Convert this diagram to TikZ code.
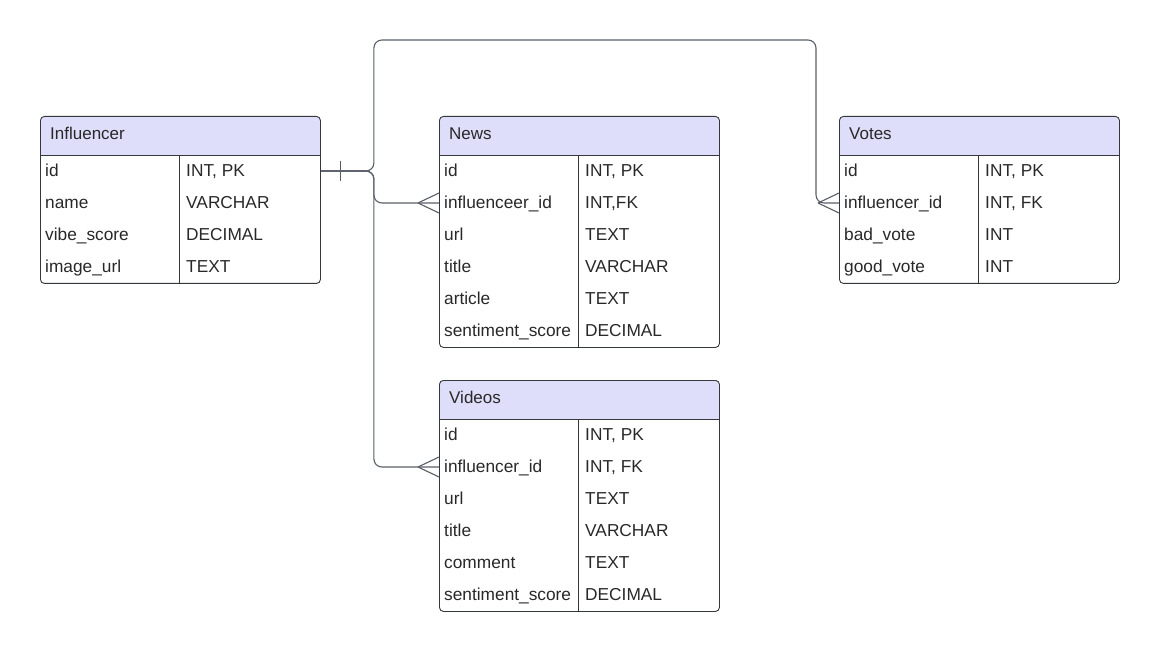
\documentclass[tikz,border=0pt]{standalone}
\usepackage{fontspec}
\setmainfont{Liberation Sans}
\usetikzlibrary{calc}
\definecolor{hdrfill}{RGB}{222,222,250}
\definecolor{edge}{RGB}{52,55,60}
\definecolor{conn}{RGB}{88,94,104}
\definecolor{ink}{RGB}{40,40,40}

% #1 name, #2 left, #3 top, #4 title, #5 number of rows, #6 rows as {field}/{type}
\newcommand\ertable[6]{%
  \pgfmathsetmacro\tabh{39+32*#5}
  \begin{scope}
    \clip[rounded corners=4] (#2,#3) rectangle ++(280,\tabh);
    \fill[hdrfill] (#2,#3) rectangle ++(280,39);
  \end{scope}
  \node[tablebox, minimum height=\tabh pt] (#1) at (#2,#3) {};
  \node[titletext] (#1-title) at (#2+6,#3+23.5) {#4};
  \draw[edge, line width=0.9pt] (#2,#3+39) -- ++(280,0);
  \draw[edge, line width=0.9pt] (#2+139,#3+39) -- (#2+139,#3+\tabh);
  \foreach \fld/\typ [count=\i] in {#6} {
    \node[celltext] (#1-\i) at (#2+1,#3+28.5+32*\i) {\fld};
    \node[celltext] (#1-\i-t) at (#2+142,#3+28.5+32*\i) {\typ};
  }
}

\tikzset{
  tablebox/.style={draw=edge, line width=0.9pt, rounded corners=4, minimum width=280pt,
    anchor=north west, inner sep=0pt},
  titletext/.style={anchor=base west, inner sep=4pt, text=ink, font=\fontsize{17}{20}\selectfont},
  celltext/.style={anchor=base west, inner sep=4pt, text=ink, font=\fontsize{17.3}{20}\selectfont},
  link/.style={draw=conn, line width=1.1pt, rounded corners=8},
  endmark/.style={draw=conn, line width=1.1pt},
}

\begin{document}
\begin{tikzpicture}[x=1pt,y=-1pt]
  \useasboundingbox (0,0) rectangle (1159,652);

  \ertable{infl}{40}{116}{Influencer}{4}{{id}/{INT, PK},{name}/{VARCHAR},{vibe\_score}/{DECIMAL},{image\_url}/{TEXT}}
  \ertable{news}{439}{116}{News}{6}{{id}/{INT, PK},{influenceer\_id}/{INT,FK},{url}/{TEXT},{title}/{VARCHAR},{article}/{TEXT},{sentiment\_score}/{DECIMAL}}
  \ertable{votes}{839}{116}{Votes}{4}{{id}/{INT, PK},{influencer\_id}/{INT, FK},{bad\_vote}/{INT},{good\_vote}/{INT}}
  \ertable{videos}{439}{380}{Videos}{6}{{id}/{INT, PK},{influencer\_id}/{INT, FK},{url}/{TEXT},{title}/{VARCHAR},{comment}/{TEXT},{sentiment\_score}/{DECIMAL}}

  % end points of the relations: vertical middle of the key rows
  \coordinate (src) at ($(infl.east |- infl-1.base)+(0,-5.5)$);
  \coordinate (tnews) at ($(news.west |- news-2.base)+(0,-5.5)$);
  \coordinate (tvotes) at ($(votes.west |- votes-2.base)+(0,-5.5)$);
  \coordinate (tvideos) at ($(videos.west |- videos-2.base)+(0,-5.5)$);

  % relation lines
  \draw[link] (src) -- ++(53,0) |- ($(tvotes)+(-23,-163)$) -- ++(0,163) -- (tvotes);
  \draw[link] (src) -- ++(53,0) |- (tnews);
  \draw[link] (src) -- ++(53,0) |- (tvideos);

  % "one" bar at the Influencer side
  \draw[endmark] ($(src)+(20,-10)$) -- ++(0,20);

  % crow's feet at the "many" side
  \foreach \t in {tnews,tvotes,tvideos} {
    \draw[endmark] ($(\t)+(-21,0)$) -- ++(21,-10);
    \draw[endmark] ($(\t)+(-21,0)$) -- ++(21,10);
  }
\end{tikzpicture}
\end{document}
